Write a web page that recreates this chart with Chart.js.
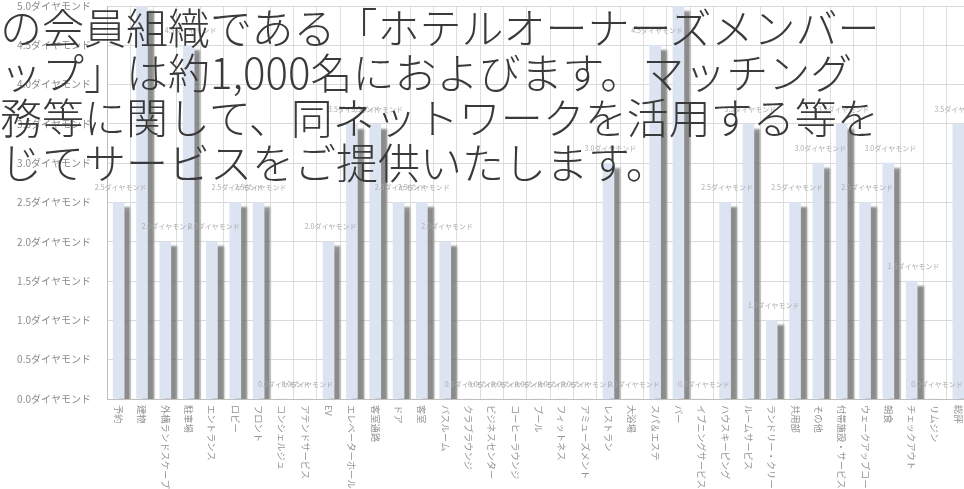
<!DOCTYPE html>
<html lang="ja">
<head>
<meta charset="utf-8">
<script src="https://cdn.jsdelivr.net/npm/chart.js@4.4.0/dist/chart.umd.min.js"></script>
<style>
    html, body { margin: 0; padding: 0; background: #fff; overflow: hidden; }
    #wrap { position: relative; width: 964px; height: 489px; overflow: hidden; }
    #chartBox { position: absolute; left: 0; top: 0; width: 970px; height: 489px; }
    #overlay {
        position: absolute; left: 0; top: 3px;
        font-family: "Noto Sans CJK JP", sans-serif; font-weight: 300;
        font-size: 42px; line-height: 45px; color: #3a3a3a;
        white-space: nowrap; pointer-events: none;
    }
</style>
</head>
<body>
<div id="wrap">
    <div id="chartBox"><canvas id="scoreChart" width="970" height="489"></canvas></div>
    <div id="overlay"></div>
</div>
<script>
// Categories (x axis)
const categories = ['予約', '建物', '外構ランドスケープ', '駐車場', 'エントランス', 'ロビー', 'フロント',
    'コンシェルジュ', 'アテンドサービス', 'EV', 'エレベーターホール', '客室通路', 'ドア', '客室', 'バスルーム',
    'クラブラウンジ', 'ビジネスセンター', 'コーヒーラウンジ', 'プール', 'フィットネス', 'アミューズメント',
    'レストラン', '大浴場', 'スパ＆エステ', 'バー', 'イブニングサービス', 'ハウスキーピング', 'ルームサービス',
    'ランドリー・クリーニング', '共用部', 'その他', '付帯施設・サービス', 'ウェークアップコール', '朝食',
    'チェックアウト', 'リムジン', '総評'];

// Scores
const scores = [2.5, 5.0, 2.0, 4.5, 2.0, 2.5, 2.5, 0, 0, 2.0, 3.5, 3.5, 2.5, 2.5, 2.0,
    0, 0, 0, 0, 0, 0, 3.0, 0, 4.5, 5.0, 0, 2.5, 3.5, 1.0, 2.5, 3.0, 3.5, 2.5, 3.0, 1.5, 0, 3.5];

const unitSuffix = 'ダイヤモンド';

// Text laid over the chart
const overlayLines = [
    'の会員組織である「ホテルオーナーズメンバー',
    'ップ」は約1,000名におよびます。マッチング',
    '務等に関して、同ネットワークを活用する等を',
    'じてサービスをご提供いたします。'
];

document.getElementById('overlay').innerHTML = overlayLines.map(l => `<div>${l}</div>`).join('');

const labelFont = '"Noto Sans CJK JP", sans-serif';

// Bar shadow (grey strip to the right of each bar)
const barShadow = {
    id: 'barShadow',
    beforeDatasetDraw(chart) {
        const ctx = chart.ctx;
        ctx.save();
        ctx.shadowColor = 'rgba(110, 110, 110, 0.8)';
        ctx.shadowBlur = 2;
        ctx.shadowOffsetX = 6;
        ctx.shadowOffsetY = 5;
    },
    afterDatasetDraw(chart) {
        chart.ctx.restore();
    }
};

// Value labels above bars + rotated category labels
const textLayer = {
    id: 'textLayer',
    afterDraw(chart) {
        const ctx = chart.ctx;
        const meta = chart.getDatasetMeta(0);
        ctx.save();
        ctx.font = '7px ' + labelFont;
        ctx.fillStyle = '#ababab';
        ctx.textAlign = 'center';
        ctx.textBaseline = 'middle';
        meta.data.forEach((bar, i) => {
            ctx.fillText(scores[i].toFixed(1) + unitSuffix, bar.x + 2, bar.y - 15);
        });

        const xScale = chart.scales.x;
        ctx.font = '9.3px ' + labelFont;
        ctx.fillStyle = '#939393';
        ctx.textAlign = 'left';
        categories.forEach((cat, i) => {
            const x = xScale.getPixelForTick(i);
            ctx.save();
            ctx.translate(x, chart.chartArea.bottom + 6);
            ctx.rotate(Math.PI / 2);
            ctx.fillText(cat, 0, 0);
            ctx.restore();
        });
        ctx.restore();
    }
};

new Chart(document.getElementById('scoreChart'), {
    type: 'bar',
    data: {
        labels: categories,
        datasets: [{
            label: 'スコア',
            data: scores,
            backgroundColor: '#dce3f1',
            borderWidth: 0,
            barThickness: 11
        }]
    },
    options: {
        responsive: false,
        animation: false,
        layout: { padding: { top: 6, left: 0, right: 0, bottom: 0 } },
        plugins: {
            legend: { display: false },
            tooltip: { enabled: false }
        },
        scales: {
            x: {
                grid: { color: '#dedede', offset: true, drawTicks: false },
                border: { color: '#bfbfbf' },
                ticks: { display: false },
                afterFit(scale) { scale.height = 90; }
            },
            y: {
                min: 0,
                max: 5,
                grid: { color: '#d9d9d9', drawTicks: false },
                border: { color: '#bfbfbf' },
                ticks: {
                    stepSize: 0.5,
                    padding: 16,
                    color: '#8c8c8c',
                    font: { family: labelFont, size: 10 },
                    callback: v => v.toFixed(1) + unitSuffix
                },
                afterFit(scale) {
                    scale.width = 107;
                    scale.paddingTop = 0;
                    scale.paddingBottom = 0;
                }
            }
        }
    },
    plugins: [barShadow, textLayer]
});
</script>
</body>
</html>
